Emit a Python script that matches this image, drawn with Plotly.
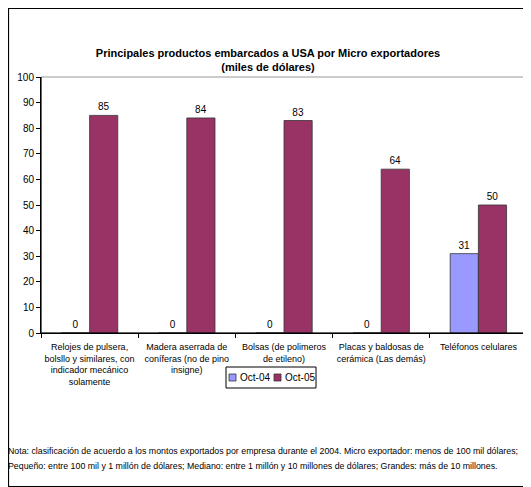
import plotly.graph_objects as go

categories = [
    "Relojes de pulsera,<br>bolsllo y similares, con<br>indicador mecánico<br>solamente",
    "Madera aserrada de<br>coníferas (no de pino<br>insigne)",
    "Bolsas (de polimeros<br>de etileno)",
    "Placas y baldosas de<br>cerámica (Las demás)",
    "Teléfonos celulares",
]
oct04 = [0, 0, 0, 0, 31]
oct05 = [85, 84, 83, 64, 50]
y_ticks = [0, 10, 20, 30, 40, 50, 60, 70, 80, 90, 100]
series_names = ["Oct-04", "Oct-05"]
series_colors = ["#9999FF", "#993366"]

# page has an 8px body margin; figure coordinates are page - 8
W, H = 523, 479
L, R, T, B = 33, 4, 69, 154
PLOT_X0, PLOT_W = 41, 486   # page coords of plot area
PLOT_Y0, PLOT_H = 333, 256

def px(x):
    return (x - PLOT_X0) / PLOT_W

def py(y):
    return (PLOT_Y0 - y) / PLOT_H

font = "Liberation Sans, Arial, sans-serif"

fig = go.Figure()
for name, vals, col in zip(series_names, [oct04, oct05], series_colors):
    fig.add_trace(go.Bar(
        x=categories, y=vals, name=name,
        marker=dict(color=col, line=dict(color="#333333", width=0.8)),
        text=[str(v) for v in vals], textposition="outside",
        textfont=dict(size=10, color="black"), cliponaxis=False,
        showlegend=False,
    ))

shapes = [
    dict(type="rect", xref="paper", yref="paper", x0=0, x1=1, y0=0, y1=1,
         line=dict(color="#999999", width=1), layer="below"),
    dict(type="line", xref="paper", yref="paper", x0=0, x1=0, y0=0, y1=1,
         line=dict(color="black", width=1)),
    dict(type="line", xref="paper", yref="paper", x0=0, x1=1, y0=0, y1=0,
         line=dict(color="black", width=1)),
    # outer chart border
    dict(type="rect", xref="paper", yref="paper", x0=px(8.5), x1=px(530),
         y0=py(486.5), y1=py(8.5), line=dict(color="black", width=1.2)),
    # legend box
    dict(type="rect", xref="paper", yref="paper", x0=px(226), x1=px(316),
         y0=py(388), y1=py(367), line=dict(color="black", width=1)),
]
annotations = []
leg_items = [(229, series_names[0], series_colors[0]), (274, series_names[1], series_colors[1])]
for x0, name, col in leg_items:
    shapes.append(dict(type="rect", xref="paper", yref="paper",
                       x0=px(x0), x1=px(x0 + 7), y0=py(381), y1=py(374),
                       fillcolor=col, line=dict(color="#333333", width=0.8)))
    annotations.append(dict(text=name, xref="paper", yref="paper",
                            x=px(x0 + 9), y=py(377.5), xanchor="left", yanchor="middle",
                            showarrow=False, font=dict(size=10, family=font)))

note_lines = [
    "Nota: clasificación de acuerdo a los montos exportados por empresa durante el 2004. Micro exportador: menos de 100 mil dólares;",
    "Pequeño: entre 100 mil y 1 millón de dólares; Mediano: entre 1 millón y 10 millones de dólares; Grandes: más de 10 millones.",
]
for yy, line in zip([451, 466], note_lines):
    annotations.append(dict(text=line, xref="paper", yref="paper",
                            x=px(7), y=py(yy), xanchor="left", yanchor="middle",
                            borderpad=0, showarrow=False,
                            font=dict(size=8.8, family=font)))

fig.update_layout(
    width=W, height=H,
    margin=dict(l=L, r=R, t=T, b=B, autoexpand=False),
    paper_bgcolor="white", plot_bgcolor="white",
    font=dict(family=font, size=10, color="black"),
    barmode="group", bargap=0.42, bargroupgap=0,
    showlegend=False,
    title=dict(
        text="<b>Principales productos embarcados a USA por Micro exportadores<br>(miles de dólares)</b>",
        x=260 / W, xanchor="center", y=1 - 49 / H, yanchor="middle",
        font=dict(size=11, family=font),
    ),
    xaxis=dict(
        showline=True, linecolor="black", linewidth=1,
        ticks="outside", tickson="boundaries", ticklen=4, tickcolor="black",
        tickfont=dict(size=9), ticklabelstandoff=5, tickangle=0,
    ),
    yaxis=dict(
        range=[0, 100], tickvals=y_ticks, showgrid=False,
        showline=True, linecolor="black", linewidth=1,
        ticks="outside", ticklen=4, tickcolor="black", zeroline=False,
        tickfont=dict(size=10),
    ),
    shapes=shapes,
    annotations=annotations,
)

fig.write_html("out.html")
